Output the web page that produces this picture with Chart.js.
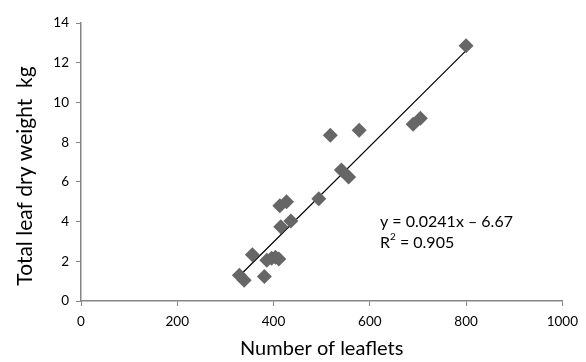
<!DOCTYPE html>
<html>
<head>
<meta charset="utf-8">
<script src="https://cdn.jsdelivr.net/npm/chart.js@4"></script>
<style>
  body { margin: 0; background: #fff; }
  #grafico { display: block; }
</style>
</head>
<body>
<canvas id="grafico" width="586" height="362"></canvas>
<script>
// dados
var folhas = [329, 339, 356, 381, 386, 396, 404, 411, 415, 436, 413, 427, 494, 518, 541, 556, 578, 690, 705, 800];
var pesoSeco = [1.3, 1.05, 2.33, 1.24, 2.05, 2.15, 2.2, 2.12, 3.74, 4.03, 4.8, 5.0, 5.15, 8.35, 6.6, 6.25, 8.6, 8.9, 9.2, 12.85];

// linha de tendencia: y = 0.0241x - 6.67
var inclinacao = 0.0241;
var intercepto = -6.67;
var tendenciaX = [329, 800];

var xTicks = [0, 200, 400, 600, 800, 1000];
var yTicks = [0, 2, 4, 6, 8, 10, 12, 14];

var fonte = "Lato, 'Open Sans', sans-serif";
var corEixo = '#868686';

var pontos = folhas.map(function (x, i) { return { x: x, y: pesoSeco[i] }; });
var tendencia = tendenciaX.map(function (x) { return { x: x, y: inclinacao * x + intercepto }; });

// escreve a equacao, o R2 e o titulo do eixo y
var textosPlugin = {
    id: 'textos',
    afterDatasetsDraw: function (chart) {
        var ctx = chart.ctx;
        var x0 = 380;
        ctx.save();
        ctx.fillStyle = '#000';
        ctx.textBaseline = 'middle';
        ctx.font = '16px ' + fonte;
        ctx.fillText('y = 0.0241x \u2013 6.67', x0, 222);
        ctx.fillText('R', x0, 243);
        var w = ctx.measureText('R').width;
        ctx.font = '10px ' + fonte;
        ctx.fillText('2', x0 + w, 237);
        var w2 = ctx.measureText('2').width;
        ctx.font = '16px ' + fonte;
        ctx.fillText(' = 0.905', x0 + w + w2, 243);

        // titulo do eixo y
        ctx.translate(25, 176);
        ctx.rotate(-Math.PI / 2);
        ctx.textAlign = 'center';
        ctx.font = '21px ' + fonte;
        ctx.fillText('Total leaf dry weight  kg', 0, 0);
        ctx.restore();
    }
};

new Chart(document.getElementById('grafico').getContext('2d'), {
    type: 'scatter',
    data: {
        datasets: [{
            label: 'pontos',
            data: pontos,
            pointStyle: 'rectRot',
            pointRadius: 7.5,
            pointHoverRadius: 7.5,
            backgroundColor: '#666666',
            borderColor: '#666666',
            borderWidth: 0
        }, {
            label: 'tendencia',
            type: 'line',
            data: tendencia,
            borderColor: '#000000',
            borderWidth: 1.2,
            pointRadius: 0,
            fill: false
        }]
    },
    options: {
        responsive: false,
        animation: false,
        layout: { padding: { left: 0, right: 21, top: 23, bottom: 0 } },
        plugins: {
            legend: { display: false },
            tooltip: { enabled: false }
        },
        scales: {
            x: {
                type: 'linear',
                min: 0,
                max: 1000,
                afterBuildTicks: function (s) { s.ticks = xTicks.map(function (v) { return { value: v }; }); },
                afterFit: function (s) { s.height = 61; },
                grid: { drawOnChartArea: false, drawTicks: true, tickLength: 5, color: corEixo, lineWidth: 1 },
                border: { display: true, color: corEixo, width: 1.5 },
                ticks: {
                    color: '#000', font: { family: fonte, size: 13.5 }, padding: 8, maxRotation: 0,
                    callback: function (v) { return String(v); }
                },
                title: { display: true, text: 'Number of leaflets', color: '#000', font: { family: fonte, size: 20 }, padding: { top: 4, bottom: 1 } }
            },
            y: {
                type: 'linear',
                min: 0,
                max: 14,
                afterBuildTicks: function (s) { s.ticks = yTicks.map(function (v) { return { value: v }; }); },
                afterFit: function (s) { s.width = 81; },
                grid: { drawOnChartArea: false, drawTicks: true, tickLength: 5, color: corEixo, lineWidth: 1 },
                border: { display: true, color: corEixo, width: 1.5 },
                ticks: {
                    color: '#000', font: { family: fonte, size: 13.5 }, padding: 7,
                    callback: function (v) { return String(v); }
                }
            }
        }
    },
    plugins: [textosPlugin]
});
</script>
</body>
</html>
